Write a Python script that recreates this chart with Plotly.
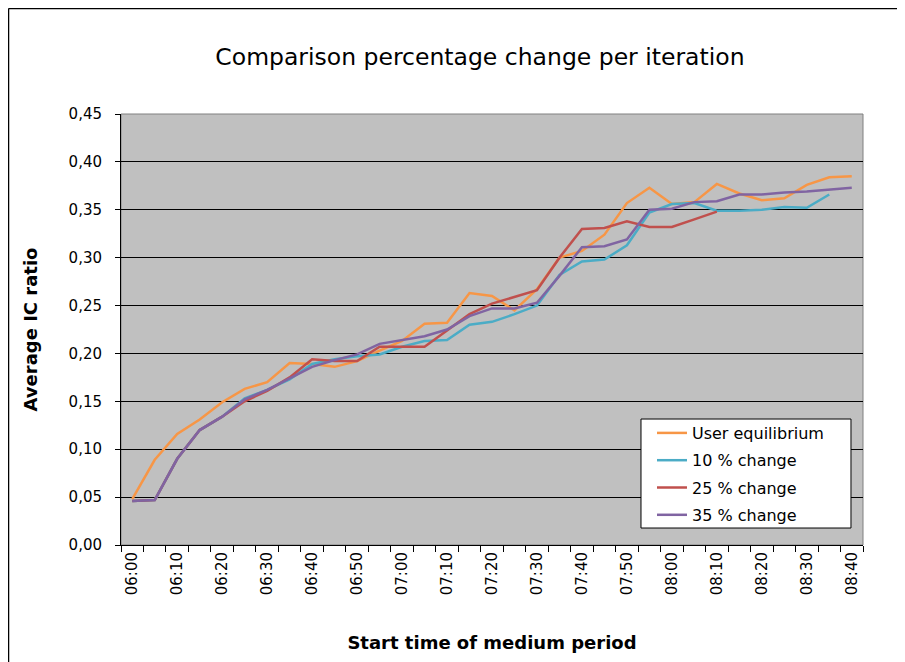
import plotly.graph_objects as go

# start times of the medium period (5 minute steps)
times = ["06:00", "06:05", "06:10", "06:15", "06:20", "06:25", "06:30", "06:35", "06:40", "06:45",
         "06:50", "06:55", "07:00", "07:05", "07:10", "07:15", "07:20", "07:25", "07:30", "07:35",
         "07:40", "07:45", "07:50", "07:55", "08:00", "08:05", "08:10", "08:15", "08:20", "08:25",
         "08:30", "08:35", "08:40"]

user_eq = [0.048, 0.089, 0.116, 0.131, 0.149, 0.163, 0.170, 0.190, 0.189, 0.186,
           0.192, 0.203, 0.213, 0.231, 0.232, 0.263, 0.260, 0.245, 0.267, 0.300,
           0.307, 0.324, 0.357, 0.373, 0.356, 0.358, 0.377, 0.367, 0.360, 0.362,
           0.376, 0.384, 0.385]
change_10 = [0.046, 0.047, 0.090, 0.120, 0.134, 0.153, 0.162, 0.173, 0.189, 0.194,
             0.197, 0.199, 0.207, 0.213, 0.214, 0.230, 0.233, 0.241, 0.250, 0.282,
             0.296, 0.298, 0.313, 0.347, 0.356, 0.357, 0.349, 0.349, 0.350, 0.353,
             0.352, 0.366]
change_25 = [0.046, 0.047, 0.090, 0.120, 0.134, 0.150, 0.161, 0.175, 0.194, 0.192,
             0.192, 0.207, 0.207, 0.207, 0.224, 0.241, 0.252, 0.259, 0.266, 0.300,
             0.330, 0.331, 0.338, 0.332, 0.332, 0.340, 0.348]
change_35 = [0.046, 0.047, 0.090, 0.120, 0.134, 0.152, 0.162, 0.174, 0.186, 0.193,
             0.199, 0.210, 0.214, 0.218, 0.225, 0.239, 0.247, 0.247, 0.253, 0.281,
             0.311, 0.312, 0.319, 0.350, 0.351, 0.358, 0.359, 0.366, 0.366, 0.368,
             0.369, 0.371, 0.373]

series = [("User equilibrium", user_eq, "#F79646"),
          ("10 % change", change_10, "#4BACC6"),
          ("25 % change", change_25, "#C0504D"),
          ("35 % change", change_35, "#8064A2")]

idx = list(range(len(times)))

fig = go.Figure()
for name, vals, col in series:
    fig.add_trace(go.Scatter(x=idx[:len(vals)], y=vals, mode="lines", name=name,
                             legendgroup=name, line=dict(color=col, width=2.5)))

font = "DejaVu Sans"
fig.update_layout(
    width=905, height=662,
    paper_bgcolor="white", plot_bgcolor="#C0C0C0",
    separators=",.",
    margin=dict(l=113, r=50, t=106, b=125),
    title=dict(text="Comparison percentage change per iteration", x=0.5215, xanchor="center",
               y=0.926, yanchor="middle", font=dict(family=font, size=23.5, color="black")),
    font=dict(family=font, color="black"),
    legend=dict(x=0.7156, y=0.2993, xanchor="left", yanchor="top", bgcolor="rgba(0,0,0,0)",
                borderwidth=0, font=dict(family=font, size=16),
                tracegroupgap=3.5, itemwidth=30),
    showlegend=True,
)
fig.update_xaxes(
    range=[-0.5, len(times) - 0.5], tickvals=idx[::2], ticktext=times[::2],
    tickangle=-90, ticks="", showgrid=False, zeroline=False,
    showline=True, linecolor="black", linewidth=1,
    tickfont=dict(size=15),
    minor=dict(tick0=-0.5, dtick=1, ticks="outside", ticklen=6, tickcolor="black", showgrid=False),
    title=dict(text="<b>Start time of medium period</b>", font=dict(size=18), standoff=42),
)
fig.update_yaxes(
    range=[0, 0.45], dtick=0.05, tickformat=".2f", showgrid=True, gridcolor="black",
    gridwidth=1, zeroline=False, showline=True, linecolor="black", linewidth=1,
    ticks="outside", ticklen=5, tickcolor="black", tickfont=dict(size=15),
    ticklabelstandoff=10,
    title=dict(text="<b>Average IC ratio</b>", font=dict(size=18), standoff=26),
)
# gray frame around plot area
fig.add_shape(type="rect", xref="x domain", yref="y domain", x0=0, y0=0, x1=1, y1=1,
              line=dict(color="#808080", width=1), layer="below")
# legend box
fig.add_shape(type="rect", xref="paper", yref="paper", x0=0.7008, y0=0.0394, x1=0.9838, y1=0.2923,
              line=dict(color="black", width=1), fillcolor="white", layer="above")
# chart frame (left and top edges)
fig.add_shape(type="line", xref="paper", yref="paper", x0=-0.1516, y0=-0.29, x1=-0.1516, y1=1.2448,
              line=dict(color="black", width=1.5))
fig.add_shape(type="line", xref="paper", yref="paper", x0=-0.1516, y0=1.2448, x1=1.054, y1=1.2448,
              line=dict(color="black", width=1.5))

fig.write_html("out.html")
